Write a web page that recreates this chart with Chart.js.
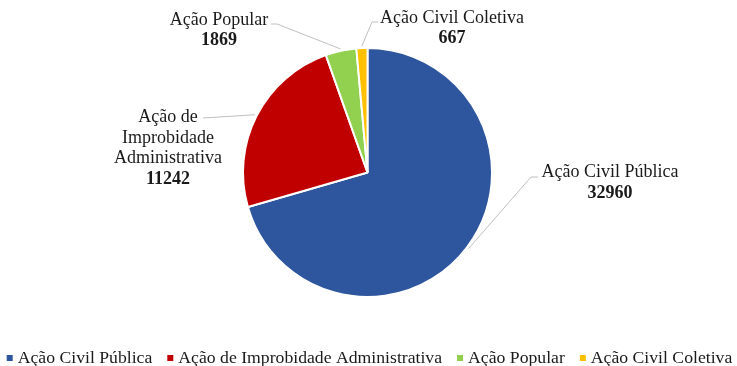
<!DOCTYPE html>
<html>
<head>
<meta charset="utf-8">
<script src="https://cdn.jsdelivr.net/npm/chart.js@4"></script>
<style>
  html, body { margin: 0; padding: 0; background: #ffffff; }
  #wrap { width: 737px; height: 366px; position: relative; }
</style>
</head>
<body>
<div id="wrap"><canvas id="chart" width="737" height="366"></canvas></div>
<script>
// Tipos de ação
const categories = ['Ação Civil Pública', 'Ação de Improbidade Administrativa', 'Ação Popular', 'Ação Civil Coletiva'];
// Quantidade de ações por tipo
const counts = [32960, 11242, 1869, 667];
// Rótulos das fatias (quebrados em linhas)
const calloutNames = [['Ação Civil Pública'], ['Ação de', 'Improbidade', 'Administrativa'], ['Ação Popular'], ['Ação Civil Coletiva']];
const sliceColors = ['#2E569E', '#C00000', '#92D050', '#FFC000'];

const SERIF = '"Liberation Serif", "Times New Roman", serif';
const TEXT_COLOR = '#1a1a1a';

// Posição dos rótulos e das linhas de chamada
const calloutLayout = [
  { x: 610, baseline: 177, step: 21, path: [[531, 177], [538, 177]] },
  { x: 168, baseline: 122, step: 20.5, path: [[203, 118]] },
  { x: 219, baseline: 25, step: 20, path: [[277, 24], [271, 24]] },
  { x: 452, baseline: 23, step: 20, path: [[372, 22], [378, 22]] }
];

const callouts = {
  id: 'callouts',
  afterDatasetsDraw(chart) {
    const ctx = chart.ctx;
    const meta = chart.getDatasetMeta(0);
    ctx.save();
    meta.data.forEach((arc, i) => {
      const p = arc.getProps(['x', 'y', 'startAngle', 'endAngle', 'outerRadius'], true);
      const mid = (p.startAngle + p.endAngle) / 2;
      const r = p.outerRadius + 2;
      const sx = p.x + Math.cos(mid) * r;
      const sy = p.y + Math.sin(mid) * r;
      const lay = calloutLayout[i];
      ctx.strokeStyle = '#BFBFBF';
      ctx.lineWidth = 1;
      ctx.beginPath();
      ctx.moveTo(sx, sy);
      lay.path.forEach(pt => ctx.lineTo(pt[0], pt[1]));
      ctx.stroke();

      ctx.fillStyle = TEXT_COLOR;
      ctx.textAlign = 'center';
      ctx.textBaseline = 'alphabetic';
      const lines = calloutNames[i];
      ctx.font = '18px ' + SERIF;
      lines.forEach((t, k) => ctx.fillText(t, lay.x, lay.baseline + k * lay.step));
      ctx.font = 'bold 18px ' + SERIF;
      ctx.fillText(String(chart.data.datasets[0].data[i]), lay.x, lay.baseline + lines.length * lay.step);
    });
    ctx.restore();
  }
};

const bottomLegend = {
  id: 'bottomLegend',
  afterDraw(chart) {
    const ctx = chart.ctx;
    const labels = chart.data.labels;
    const colors = chart.data.datasets[0].backgroundColor;
    const box = 6, gap = 5, itemGap = 15;
    ctx.save();
    ctx.font = '17.7px ' + SERIF;
    const widths = labels.map(l => box + gap + ctx.measureText(l).width);
    const total = widths.reduce((a, b) => a + b, 0) + itemGap * (labels.length - 1);
    let x = (chart.width - total) / 2 + 1;
    const yMid = 358;
    ctx.textBaseline = 'middle';
    ctx.textAlign = 'left';
    labels.forEach((l, i) => {
      ctx.fillStyle = colors[i];
      ctx.fillRect(x, yMid - box / 2, box, box);
      ctx.fillStyle = TEXT_COLOR;
      ctx.fillText(l, x + box + gap, yMid);
      x += widths[i] + itemGap;
    });
    ctx.restore();
  }
};

new Chart(document.getElementById('chart'), {
  type: 'pie',
  data: {
    labels: categories,
    datasets: [{
      data: counts,
      backgroundColor: sliceColors,
      borderColor: '#ffffff',
      borderWidth: 2
    }]
  },
  options: {
    responsive: false,
    animation: false,
    events: [],
    layout: { padding: { top: 47, bottom: 68, left: 0, right: 2 } },
    plugins: {
      legend: { display: false },
      tooltip: { enabled: false }
    }
  },
  plugins: [callouts, bottomLegend]
});
</script>
</body>
</html>
